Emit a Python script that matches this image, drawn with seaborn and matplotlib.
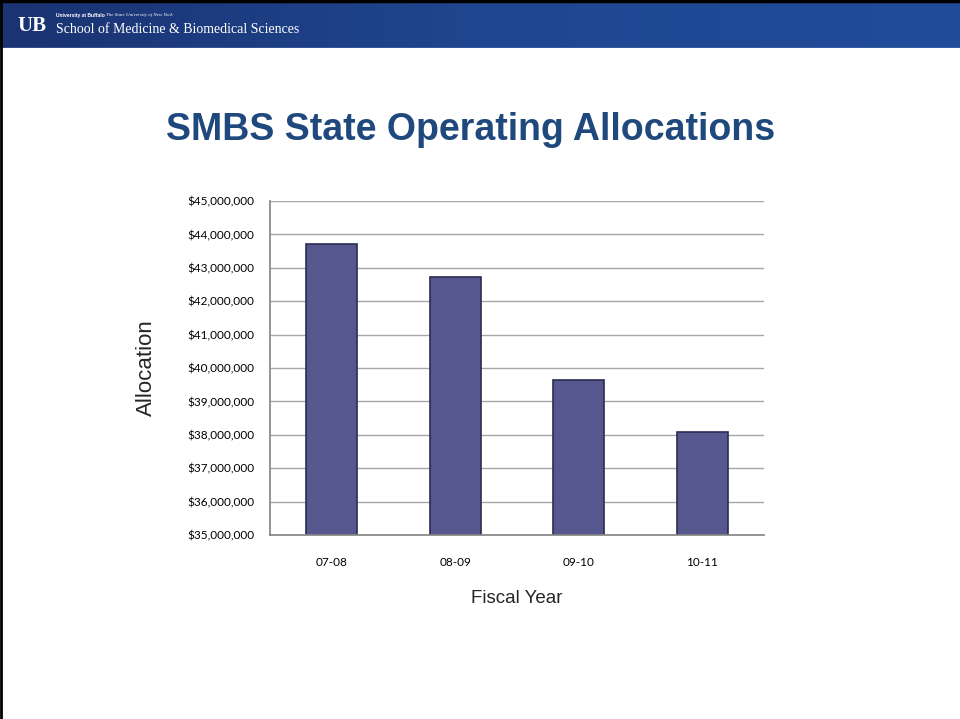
import numpy as np
import pandas as pd
import matplotlib
matplotlib.use('Agg')
import matplotlib.pyplot as plt
import seaborn as sns
from matplotlib.ticker import FuncFormatter

# Datos
years = ['07-08', '08-09', '09-10', '10-11']
allocations = [43710000, 42720000, 39640000, 38080000]
y_ticks = list(range(35000000, 45000001, 1000000))

df = pd.DataFrame({'year': years, 'allocation': allocations})

sns.set_theme(style='white')
plt.rcParams['font.family'] = ['Liberation Sans', 'DejaVu Sans']

fig = plt.figure(figsize=(9.6, 7.19), dpi=100)
fig.patch.set_facecolor('white')

# Cabecera azul con degradado
hdr = fig.add_axes([0, 1 - 48 / 719, 1, 48 / 719])
grad = np.linspace(0, 1, 256).reshape(1, -1)
hdr.imshow(grad, aspect='auto', cmap=matplotlib.colors.LinearSegmentedColormap.from_list(
    'hdr', ['#1A3372', '#1F4690', '#214C9A']), extent=[0, 1, 0, 1])
hdr.set_xlim(0, 1)
hdr.set_ylim(0, 1)
hdr.axis('off')
hdr.axhline(0.01, color='#9FB0D0', linewidth=1)
hdr.text(0.018, 0.45, 'UB', color='white', fontsize=15, fontweight='bold',
         family='Liberation Serif', va='center')
hdr.text(0.058, 0.68, 'University at Buffalo', color='white', fontsize=3.6,
         fontweight='bold', va='center')
hdr.text(0.110, 0.68, 'The State University of New York', color='white', fontsize=3.6,
         style='italic', family='Liberation Serif', va='center')
hdr.text(0.058, 0.38, 'School of Medicine & Biomedical Sciences', color='white',
         fontsize=10, family='Liberation Serif', va='center')

# Borde de la diapositiva (arriba e izquierda)
fig.add_artist(plt.Line2D([0.0015, 0.0015], [0, 1], transform=fig.transFigure,
                          color='black', linewidth=2))
fig.add_artist(plt.Line2D([0, 1], [0.998, 0.998], transform=fig.transFigure,
                          color='black', linewidth=2.5))

# Título
fig.text(0.490, 0.819, 'SMBS State Operating Allocations', ha='center', va='center',
         fontsize=27, fontweight='bold', color='#1F497D')

# Gráfico de barras
ax = fig.add_axes([270 / 960, 1 - 535 / 719, 494 / 960, 334 / 719])
sns.barplot(data=df, x='year', y='allocation', ax=ax, color='#57578F',
            edgecolor='#2B2B52', linewidth=1.2, width=0.41, saturation=1)
ax.set_ylim(35000000, 45000000)
ax.set_yticks(y_ticks)
ax.yaxis.set_major_formatter(FuncFormatter(lambda v, p: f'${v:,.0f}'))
ax.yaxis.grid(True, color='#A6A6A6', linewidth=1)
ax.set_axisbelow(True)
for s in ['top', 'right']:
    ax.spines[s].set_visible(False)
ax.spines['left'].set_color('#868686')
ax.spines['bottom'].set_color('#868686')
ax.tick_params(axis='both', length=0, labelsize=8.5, colors='black')
for lbl in ax.get_xticklabels() + ax.get_yticklabels():
    lbl.set_family(['Lato', 'DejaVu Sans'])
ax.tick_params(axis='x', pad=16)
ax.tick_params(axis='y', pad=11)
ax.set_xlabel('Fiscal Year', fontsize=13.5, labelpad=16)
ax.set_ylabel('Allocation', fontsize=16, labelpad=22)

fig.savefig('out.png', dpi=100)
